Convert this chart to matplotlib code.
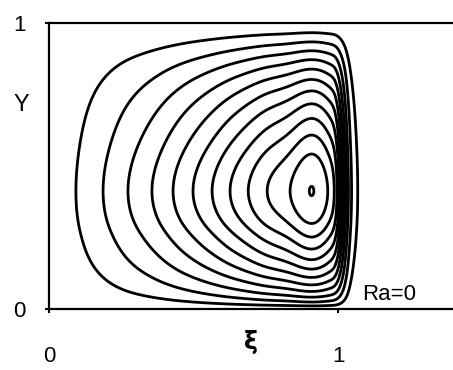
import numpy as np
import matplotlib.pyplot as plt

plt.rcParams['font.family'] = ['Liberation Sans', 'DejaVu Sans']

# streamline crossings along the horizontal line through the vortex centre
xi_knots = [0.0, 0.093, 0.187, 0.273, 0.356, 0.429, 0.498, 0.564, 0.626, 0.689,
            0.754, 0.834, 0.915, 0.965, 0.990, 0.998, 1.004, 1.010,
            1.016, 1.022, 1.028, 1.035, 1.045, 1.068, 1.10]
psi_xi = [0, 1, 2, 3, 4, 5, 6, 7, 8, 9,
          10, 11, 12.04, 11, 10, 9, 8, 7,
          6, 5, 4, 3, 2, 1, 0]

# streamline crossings along the vertical line through the vortex centre
y_knots = [0.0, 0.010, 0.024, 0.041, 0.061, 0.084, 0.110, 0.139, 0.172, 0.209,
           0.251, 0.298, 0.415, 0.543, 0.609, 0.667, 0.718, 0.763,
           0.803, 0.839, 0.872, 0.903, 0.934, 0.966, 1.0]
psi_y = [0, 1, 2, 3, 4, 5, 6, 7, 8, 9,
         10, 11, 12.04, 11, 10, 9, 8, 7,
         6, 5, 4, 3, 2, 1, 0]

levels = [1, 2, 3, 4, 5, 6, 7, 8, 9, 10, 11, 12]
psi_centre = 12.02


def pchip(xk, yk, x):
    # monotone cubic hermite interpolation (Fritsch-Carlson)
    xk = np.asarray(xk, float)
    yk = np.asarray(yk, float)
    h = np.diff(xk)
    d = np.diff(yk) / h
    m = np.zeros_like(yk)
    for i in range(1, len(xk) - 1):
        if d[i - 1] * d[i] > 0:
            w1 = 2 * h[i] + h[i - 1]
            w2 = h[i] + 2 * h[i - 1]
            m[i] = (w1 + w2) / (w1 / d[i - 1] + w2 / d[i])
    m[0] = d[0]
    m[-1] = d[-1]
    idx = np.clip(np.searchsorted(xk, x) - 1, 0, len(h) - 1)
    t = (x - xk[idx]) / h[idx]
    h00 = 2 * t**3 - 3 * t**2 + 1
    h10 = t**3 - 2 * t**2 + t
    h01 = -2 * t**3 + 3 * t**2
    h11 = t**3 - t**2
    return (h00 * yk[idx] + h10 * h[idx] * m[idx]
            + h01 * yk[idx + 1] + h11 * h[idx] * m[idx + 1])


def spline(xk, yk, x):
    # natural cubic spline, C2 so the contours have no curvature jumps
    xk = np.asarray(xk, float)
    yk = np.asarray(yk, float)
    n = len(xk)
    h = np.diff(xk)
    A = np.zeros((n, n))
    r = np.zeros(n)
    A[0, 0] = A[-1, -1] = 1
    for i in range(1, n - 1):
        A[i, i - 1] = h[i - 1]
        A[i, i] = 2 * (h[i - 1] + h[i])
        A[i, i + 1] = h[i]
        r[i] = 6 * ((yk[i + 1] - yk[i]) / h[i] - (yk[i] - yk[i - 1]) / h[i - 1])
    M = np.linalg.solve(A, r)
    i = np.clip(np.searchsorted(xk, x) - 1, 0, n - 2)
    t = x - xk[i]
    c = (yk[i + 1] - yk[i]) / h[i] - h[i] * (2 * M[i] + M[i + 1]) / 6
    return yk[i] + c * t + M[i] / 2 * t**2 + (M[i + 1] - M[i]) / (6 * h[i]) * t**3


def smooth(v, step, sigma):
    # gaussian smoothing, odd reflection at both ends keeps the zero walls
    n = int(4 * sigma / step)
    k = np.exp(-0.5 * (np.arange(-n, n + 1) * step / sigma) ** 2)
    k /= k.sum()
    padded = np.concatenate([-v[n:0:-1], v, -v[-2:-n - 2:-1]])
    return np.convolve(padded, k, mode='valid')


xs = np.linspace(0, 1.1, 1401)
ys = np.linspace(0, 1.0, 1001)

# smooth spline up to just past the centre, monotone pieces in the thin layer
ip = int(np.argmax(psi_xi))
x_join = xi_knots[ip + 1]
F_in = spline(xi_knots[:ip + 3], psi_xi[:ip + 3], xs)
F_out = pchip(xi_knots[ip + 1:], psi_xi[ip + 1:], xs)
F = smooth(np.where(xs < x_join, F_in, F_out), xs[1] - xs[0], 0.008)
G = smooth(spline(y_knots, psi_y, ys), ys[1] - ys[0], 0.008)

X, Y = np.meshgrid(xs, ys)
PSI = np.outer(G, F)
PSI *= psi_centre / PSI.max()

fig = plt.figure(figsize=(4.53, 3.70), dpi=100)
ax = fig.add_axes([49 / 453, 61 / 370, 420 / 453, 286 / 370])
ax.contour(X, Y, PSI, levels=levels, colors='black', linewidths=2.0)

ax.set_xlim(0, 420 / 289)
ax.set_ylim(0, 1)
ax.spines['right'].set_visible(False)
for s in ['left', 'top', 'bottom']:
    ax.spines[s].set_linewidth(1.6)

ax.set_xticks([0, 1])
ax.set_yticks([0, 1])
ax.set_xticklabels(['0', '1'], fontsize=16)
ax.set_yticklabels(['0', '1'], fontsize=16)
ax.tick_params(axis='x', direction='out', length=3, width=1.5, pad=24)
ax.tick_params(axis='y', direction='out', length=3, width=1.5, pad=14)

ax.text(-0.097, 0.713, 'Y', fontsize=17, ha='center', va='center')
ax.text(0.699, -0.115, 'ξ', fontsize=17, ha='center', va='center',
        fontfamily=['DejaVu Sans'], fontweight='bold')
ax.text(1.083, 0.052, 'Ra=0', fontsize=16, ha='left', va='center')

fig.savefig('out.png', dpi=100)
